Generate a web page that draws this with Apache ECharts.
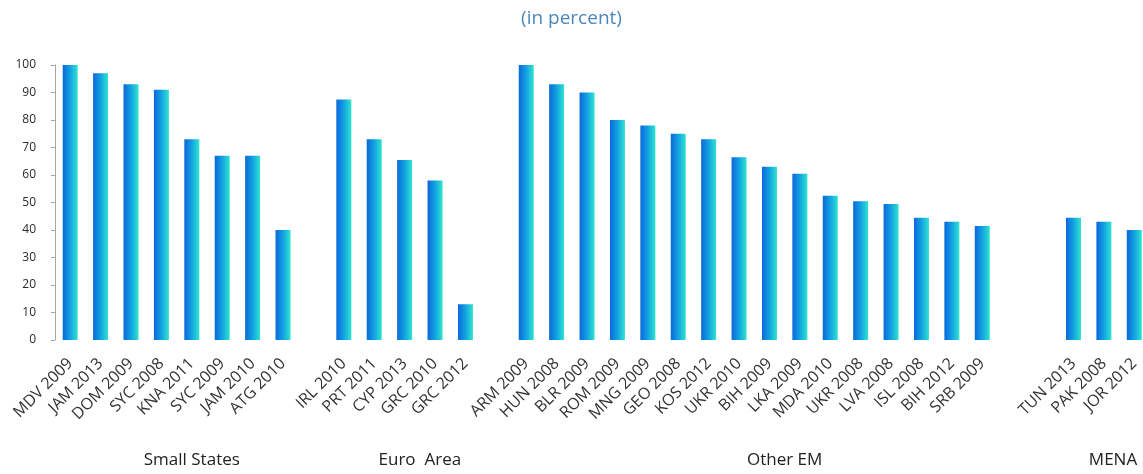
<!DOCTYPE html>
<html>
<head>
<meta charset="utf-8">
<script src="https://cdn.jsdelivr.net/npm/echarts@6/dist/echarts.min.js"></script>
<style>
  html, body { margin: 0; padding: 0; background: #fff; }
  #chart { width: 1143px; height: 474px; }
</style>
</head>
<body>
<div id="chart"></div>
<script>
// Country-year episodes per region group, with their shares (percent)
const smallStatesNames = ['MDV 2009', 'JAM 2013', 'DOM 2009', 'SYC 2008', 'KNA 2011', 'SYC 2009', 'JAM 2010', 'ATG 2010'];
const smallStatesValues = [100, 97, 93, 91, 73, 67, 67, 40];

const euroAreaNames = ['IRL 2010', 'PRT 2011', 'CYP 2013', 'GRC 2010', 'GRC 2012'];
const euroAreaValues = [87.5, 73, 65.5, 58, 13];

const otherEmNames = ['ARM 2009', 'HUN 2008', 'BLR 2009', 'ROM 2009', 'MNG 2009', 'GEO 2008', 'KOS 2012', 'UKR 2010',
  'BIH 2009', 'LKA 2009', 'MDA 2010', 'UKR 2008', 'LVA 2008', 'ISL 2008', 'BIH 2012', 'SRB 2009'];
const otherEmValues = [100, 93, 90, 80, 78, 75, 73, 66.5, 63, 60.5, 52.5, 50.5, 49.5, 44.5, 43, 41.5];

const menaNames = ['TUN 2013', 'PAK 2008', 'JOR 2012'];
const menaValues = [44.5, 43, 40];

const groupLabels = ['Small States', 'Euro  Area', 'Other EM', 'MENA'];
const yTicks = { min: 0, max: 100, step: 10 };

// Empty slots separating the groups on the category axis
const groups = [
  { names: smallStatesNames, values: smallStatesValues, gapAfter: 1 },
  { names: euroAreaNames, values: euroAreaValues, gapAfter: 1 },
  { names: otherEmNames, values: otherEmValues, gapAfter: 2 },
  { names: menaNames, values: menaValues, gapAfter: 0 }
];
// First category index of each group
const captionAnchor = [];

const categories = [];
const values = [];
groups.forEach((g) => {
  const start = categories.length;
  g.names.forEach((n, i) => { categories.push(n); values.push(g.values[i]); });
  captionAnchor.push(start);
  for (let k = 0; k < g.gapAfter; k++) { categories.push(''); values.push(null); }
});
// Caption offsets within each group (in category units from the group's first bar)
const captionOffset = [4, 2.5, 8.5, 1.3];

const FONT = '"Open Sans", "Noto Sans", sans-serif';

const chart = echarts.init(document.getElementById('chart'));
chart.setOption({
  animation: false,
  title: {
    text: '(in percent)',
    left: 'center',
    top: 4,
    textStyle: { color: '#4b87bb', fontSize: 19, fontWeight: 'normal', fontFamily: FONT }
  },
  // the plot runs slightly past the right edge of the canvas
  grid: {
    left: 55, top: 65, width: 1094.5, height: 275,
    containLabel: false, outerBoundsMode: 'none'
  },
  xAxis: {
    type: 'category',
    data: categories,
    boundaryGap: true,
    axisLine: { show: false },
    axisTick: { show: false },
    axisLabel: {
      interval: 0,
      rotate: 45,
      margin: 21,
      color: '#333',
      fontSize: 16,
      fontFamily: FONT
    }
  },
  yAxis: {
    type: 'value',
    min: yTicks.min,
    max: yTicks.max,
    interval: yTicks.step,
    axisLine: { show: true, lineStyle: { color: '#a6a6a6', width: 1 } },
    axisTick: { show: true, length: 4, lineStyle: { color: '#a6a6a6' } },
    splitLine: { show: false },
    axisLabel: { color: '#2a2a2a', fontSize: 12, fontFamily: FONT, margin: 19 }
  },
  series: [{
    type: 'bar',
    data: values,
    barWidth: 15,
    itemStyle: {
      color: new echarts.graphic.LinearGradient(0, 0, 1, 0, [
        { offset: 0, color: '#0b68da' },
        { offset: 0.5, color: '#13a2e2' },
        { offset: 1, color: '#30e4d0' }
      ])
    }
  }]
});

// Pixel x of a fractional category position (category axis snaps to whole indices)
function categoryX(pos) {
  const i0 = Math.floor(pos);
  const x0 = chart.convertToPixel({ xAxisIndex: 0 }, i0);
  const x1 = chart.convertToPixel({ xAxisIndex: 0 }, i0 + 1);
  return x0 + (x1 - x0) * (pos - i0);
}

// Group captions below the rotated category labels
const captionY = 460;
chart.setOption({
  graphic: groupLabels.map((t, i) => ({
    type: 'text',
    x: categoryX(captionAnchor[i] + captionOffset[i]),
    y: captionY,
    style: {
      text: t,
      fill: '#222',
      fontSize: 17,
      fontFamily: FONT,
      textAlign: 'center',
      textVerticalAlign: 'middle'
    }
  }))
});
</script>
</body>
</html>
